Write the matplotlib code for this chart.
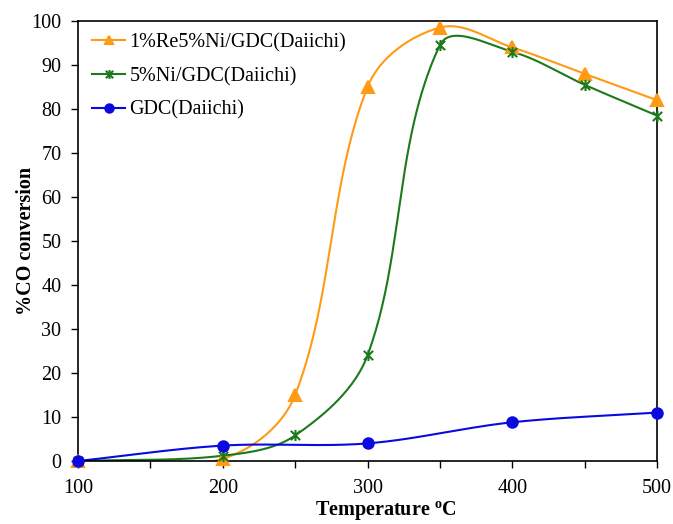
import numpy as np
import matplotlib
matplotlib.use("Agg")
import matplotlib.pyplot as plt
from matplotlib.path import Path

temps_re = [100, 200, 250, 300, 350, 400, 450, 500]
conv_re = [0, 0.5, 15, 85, 98.5, 94, 88, 82]
temps_ni = [100, 200, 250, 300, 350, 400, 450, 500]
conv_ni = [0, 1.2, 5.8, 24, 94.5, 93, 85.5, 78.5]
temps_gdc = [100, 200, 300, 400, 500]
conv_gdc = [0, 3.5, 4, 8.8, 11]
labels = ["1%Re5%Ni/GDC(Daiichi)", "5%Ni/GDC(Daiichi)", "GDC(Daiichi)"]
colors = ["#FF9A14", "#1C7A1C", "#0A0AE0"]

plt.rcParams['font.family'] = ['Liberation Serif', 'DejaVu Serif']

FS = 14.5

fig = plt.figure(figsize=(6.73, 5.24), dpi=100)
ax = fig.add_axes([78 / 673, 63 / 524, 579 / 673, 440 / 524])
ax.set_xlim(100, 500)
ax.set_ylim(0, 100)


def smooth(x, y, n=50):
    # Bezier smoothing (spreadsheet-like), computed in screen-proportional space
    sx, sy = 579.0 / 400.0, 440.0 / 100.0
    P = np.column_stack([np.asarray(x, float) * sx, np.asarray(y, float) * sy])
    m = len(P)
    T = []
    for i in range(m):
        a = P[max(i - 1, 0)]
        b = P[min(i + 1, m - 1)]
        d = b - a
        T.append(d / np.linalg.norm(d))
    out = []
    for i in range(m - 1):
        p0, p3 = P[i], P[i + 1]
        L = np.linalg.norm(p3 - p0)
        c1 = p0 + T[i] * L / 3.0
        c2 = p3 - T[i + 1] * L / 3.0
        t = np.linspace(0, 1, n)[:, None]
        b = ((1 - t) ** 3) * p0 + 3 * ((1 - t) ** 2) * t * c1 + 3 * (1 - t) * t ** 2 * c2 + t ** 3 * p3
        out.append(b)
    out = np.vstack(out)
    return out[:, 0] / sx, out[:, 1] / sy


star = Path([(-1, -1), (1, 1), (-1, 1), (1, -1), (0, -1.2), (0, 1.2)],
            [Path.MOVETO, Path.LINETO, Path.MOVETO, Path.LINETO, Path.MOVETO, Path.LINETO])

series = [(temps_re, conv_re, '^', 8), (temps_ni, conv_ni, star, 8), (temps_gdc, conv_gdc, 'o', 7.5)]
for (tx, cy, mk, ms), lab, col in zip(series, labels, colors):
    sx_, sy_ = smooth(tx, cy)
    ax.plot(sx_, sy_, color=col, lw=1.5, zorder=2)
    ax.plot(tx, cy, linestyle='none', marker=mk, markersize=ms, color=col,
            markeredgecolor=col, markeredgewidth=1.5, zorder=3, clip_on=False)
    ax.plot([], [], color=col, lw=1.5, marker=mk, markersize=ms * 0.8,
            markeredgewidth=1.5, label=lab)

ax.set_xticks(np.arange(100, 501, 50))
ax.set_xticklabels([str(v) if v % 100 == 0 else '' for v in range(100, 501, 50)])
ax.set_yticks(np.arange(0, 101, 10))
ax.tick_params(direction='out', length=5, width=1, labelsize=FS, color='black')
ax.tick_params(axis='x', pad=8)
ax.tick_params(axis='y', pad=7)
for s in ax.spines.values():
    s.set_linewidth(1.2)
    s.set_color('black')

ax.set_xlabel('Temperature $^{\\mathregular{o}}$C', fontsize=FS, fontweight='bold', va='top')
ax.xaxis.set_label_coords((386 - 78) / 579, -(499 - 461) / 440)
ax.set_ylabel('%CO conversion', fontsize=FS, fontweight='bold')
ax.yaxis.set_label_coords(-(78 - 36) / 579, 0.5)

leg = ax.legend(loc='upper left', frameon=False, fontsize=FS, handlelength=1.65,
                borderaxespad=0, borderpad=0, labelspacing=0.72, handletextpad=0.2,
                bbox_to_anchor=(14 / 579, 1 - 12 / 440))

fig.savefig('out.png', dpi=100)
